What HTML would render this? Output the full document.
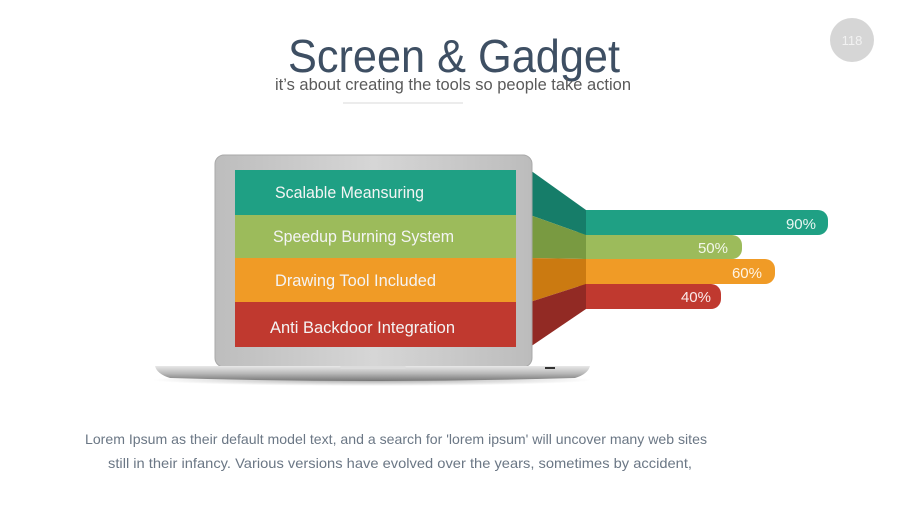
<!DOCTYPE html>
<html><head><meta charset="utf-8"><style>
html,body{margin:0;padding:0;background:#fff;}
svg{display:block;font-family:"Liberation Sans",sans-serif;}
</style></head><body>
<svg width="900" height="506" viewBox="0 0 900 506" xmlns="http://www.w3.org/2000/svg">
<defs>
<linearGradient id="bez" x1="0" y1="0" x2="1" y2="0">
<stop offset="0" stop-color="#bdbdbd"/><stop offset="0.5" stop-color="#d6d6d6"/><stop offset="1" stop-color="#bcbcbc"/>
</linearGradient>
<linearGradient id="base" x1="0" y1="0" x2="0" y2="1">
<stop offset="0" stop-color="#e8e8e8"/><stop offset="0.5" stop-color="#b8b8b8"/><stop offset="1" stop-color="#777"/>
</linearGradient>
<radialGradient id="sh" cx="0.5" cy="0.5" r="0.5"><stop offset="0" stop-color="#000" stop-opacity="0.35"/><stop offset="1" stop-color="#000" stop-opacity="0"/></radialGradient>
</defs>
<circle cx="852" cy="40" r="22" fill="#d6d6d6"/>
<text x="852" y="45" font-size="13" fill="#f2f2f2" text-anchor="middle">118</text>
<text x="454" y="72" font-size="46" fill="#3e4f63" text-anchor="middle" textLength="332" lengthAdjust="spacingAndGlyphs">Screen &amp; Gadget</text>
<text x="453" y="90" font-size="17" fill="#5a5a5a" text-anchor="middle" textLength="356" lengthAdjust="spacingAndGlyphs">it’s about creating the tools so people take action</text>
<line x1="343" y1="103" x2="463" y2="103" stroke="#e6e6e6" stroke-width="1.5"/>
<!-- bars -->
<rect x="575" y="210" width="253" height="25" rx="10" fill="#1fa084"/>
<rect x="575" y="235" width="167" height="24" rx="10" fill="#9cbb5b"/>
<rect x="575" y="259" width="200" height="25" rx="10" fill="#f09b26"/>
<rect x="575" y="284" width="146" height="25" rx="10" fill="#c0392f"/>
<text x="816" y="229" font-size="15" fill="#e9f6f2" text-anchor="end">90%</text>
<text x="728" y="253" font-size="15" fill="#f3f7ea" text-anchor="end">50%</text>
<text x="762" y="278" font-size="15" fill="#fff4e3" text-anchor="end">60%</text>
<text x="711" y="302" font-size="15" fill="#fbeaea" text-anchor="end">40%</text>
<!-- funnel -->
<polygon points="530,170 586,210 586,235 530,215" fill="#167d69"/>
<polygon points="530,215 586,235 586,259 530,258" fill="#799a41"/>
<polygon points="530,258 586,259 586,284 530,302" fill="#cb7a11"/>
<polygon points="530,302 586,284 586,309 530,347" fill="#922a24"/>
<!-- laptop -->
<ellipse cx="372" cy="380" rx="220" ry="6" fill="url(#sh)"/>
<rect x="215" y="155" width="317" height="212" rx="9" fill="url(#bez)" stroke="#a9a9a9"/>
<rect x="235" y="170" width="281" height="45" fill="#1fa084"/>
<rect x="235" y="215" width="281" height="43" fill="#9cbb5b"/>
<rect x="235" y="258" width="281" height="44" fill="#f09b26"/>
<rect x="235" y="302" width="281" height="45" fill="#c0392f"/>
<path d="M155 366 L590 366 Q588 374 575 378 Q372 384 170 378 Q157 374 155 366 Z" fill="url(#base)"/>
<rect x="340" y="366" width="66" height="3" rx="1.5" fill="#dcdcdc"/>
<rect x="545" y="367" width="10" height="2" fill="#333"/>
<g font-size="16.5" fill="#f4f4f4">
<text x="275" y="198" textLength="149" lengthAdjust="spacingAndGlyphs">Scalable Meansuring</text>
<text x="273" y="242" textLength="181" lengthAdjust="spacingAndGlyphs">Speedup Burning System</text>
<text x="275" y="286" textLength="161" lengthAdjust="spacingAndGlyphs">Drawing Tool Included</text>
<text x="270" y="333" textLength="185" lengthAdjust="spacingAndGlyphs">Anti Backdoor Integration</text>
</g>
<g font-size="14" fill="#6b7785" text-anchor="middle">
<text x="396" y="444" textLength="622" lengthAdjust="spacingAndGlyphs">Lorem Ipsum as their default model text, and a search for 'lorem ipsum' will uncover many web sites</text>
<text x="400" y="468" textLength="584" lengthAdjust="spacingAndGlyphs">still in their infancy. Various versions have evolved over the years, sometimes by accident,</text>
</g>
</svg>
</body></html>
